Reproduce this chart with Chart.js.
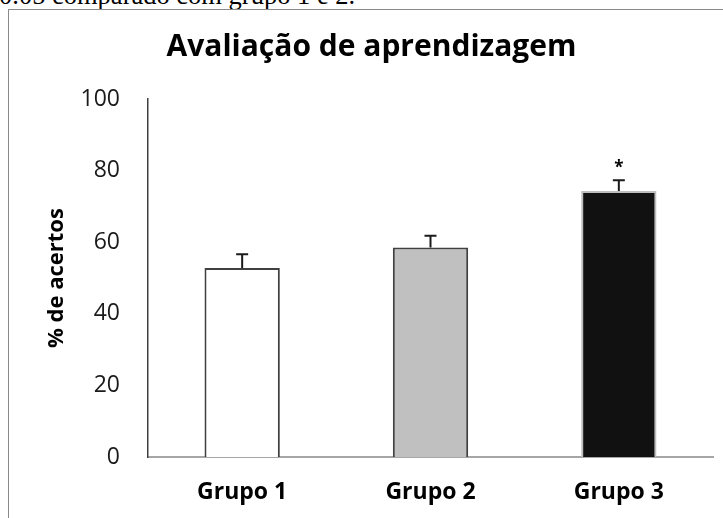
<!DOCTYPE html>
<html>
<head>
<meta charset="utf-8">
<script src="https://cdn.jsdelivr.net/npm/chart.js@4"></script>
<style>
  html, body { margin: 0; padding: 0; background: #fff; overflow: hidden; }
  #wrap { position: relative; width: 723px; height: 518px; overflow: hidden; }
  #note { position: absolute; left: -1px; top: -20px; font-family: "Liberation Serif", serif; font-size: 26.5px; line-height: 30px; color: #000; white-space: nowrap; }
  #frame { position: absolute; left: 8px; top: 9px; right: -5px; bottom: -5px; border-left: 1px solid #8a8a8a; border-top: 1px solid #8a8a8a; }
  canvas { position: absolute; left: 0; top: 0; }
</style>
</head>
<body>
<div id="wrap">
  <div id="note">0.05 comparado com grupo 1 e 2.</div>
  <div id="frame"></div>
  <canvas id="chart" width="723" height="518"></canvas>
</div>
<script>
// Learning assessment: percentage of correct answers per group
const categories = ['Grupo 1', 'Grupo 2', 'Grupo 3'];
const means = [52.8, 58.5, 74.3];
const errors = [3.8, 3.3, 3.0];
const significance = ['', '', '*'];
const yTickValues = [0, 20, 40, 60, 80, 100];

const fills = ['#ffffff', '#c0c0c0', '#111111'];
const outlines = ['#404040', '#404040', '#bdbdbd'];

// Upward error bars plus significance marks, positioned through the y scale
const errorBars = {
  id: 'errorBars',
  afterDatasetsDraw(chart) {
    const ctx = chart.ctx;
    const y = chart.scales.y;
    const meta = chart.getDatasetMeta(0);
    ctx.save();
    meta.data.forEach((bar, i) => {
      const top = y.getPixelForValue(means[i] + errors[i]);
      ctx.strokeStyle = '#1a1a1a';
      ctx.lineWidth = 2;
      ctx.beginPath();
      ctx.moveTo(bar.x, bar.y);
      ctx.lineTo(bar.x, top);
      ctx.moveTo(bar.x - 6, top);
      ctx.lineTo(bar.x + 6, top);
      ctx.stroke();
      if (significance[i]) {
        ctx.fillStyle = '#000';
        ctx.font = 'bold 17px "Open Sans"';
        ctx.textAlign = 'center';
        ctx.textBaseline = 'alphabetic';
        ctx.fillText(significance[i], bar.x, top - 7);
      }
    });
    ctx.restore();
  }
};

new Chart(document.getElementById('chart'), {
  type: 'bar',
  data: {
    labels: categories,
    datasets: [{
      data: means,
      backgroundColor: fills,
      borderColor: outlines,
      borderWidth: 2,
      borderSkipped: 'bottom',
      categoryPercentage: 1,
      barPercentage: 0.4
    }]
  },
  options: {
    responsive: false,
    animation: false,
    devicePixelRatio: 1,
    layout: { padding: { left: 30, right: 10, top: 0, bottom: 0 } },
    plugins: {
      legend: { display: false },
      tooltip: { enabled: false },
      title: {
        display: true,
        text: 'Avaliação de aprendizagem',
        color: '#000',
        font: { family: 'Open Sans', size: 30, weight: 'bold' },
        padding: { top: 29, bottom: 34 }
      }
    },
    scales: {
      x: {
        grid: { display: false, drawTicks: false },
        border: { display: true, color: '#a6a6a6', width: 2 },
        ticks: {
          color: '#000',
          padding: 22,
          font: { family: 'Open Sans', size: 23, weight: 'bold' }
        },
        afterFit(scale) { scale.height = 61; }
      },
      y: {
        min: 0,
        max: 100,
        afterBuildTicks(scale) { scale.ticks = yTickValues.map(v => ({ value: v })); },
        grid: { display: false, drawTicks: false },
        border: { display: true, color: '#404040', width: 1.5 },
        ticks: {
          color: '#1a1a1a',
          padding: 28,
          font: { family: 'Open Sans', size: 23 }
        },
        title: {
          display: true,
          text: '% de acertos',
          color: '#000',
          font: { family: 'Open Sans', size: 22, weight: 'bold' },
          padding: { top: 14, bottom: 0 }
        },
        afterFit(scale) { scale.width = 118; }
      }
    }
  },
  plugins: [errorBars]
});
</script>
</body>
</html>
